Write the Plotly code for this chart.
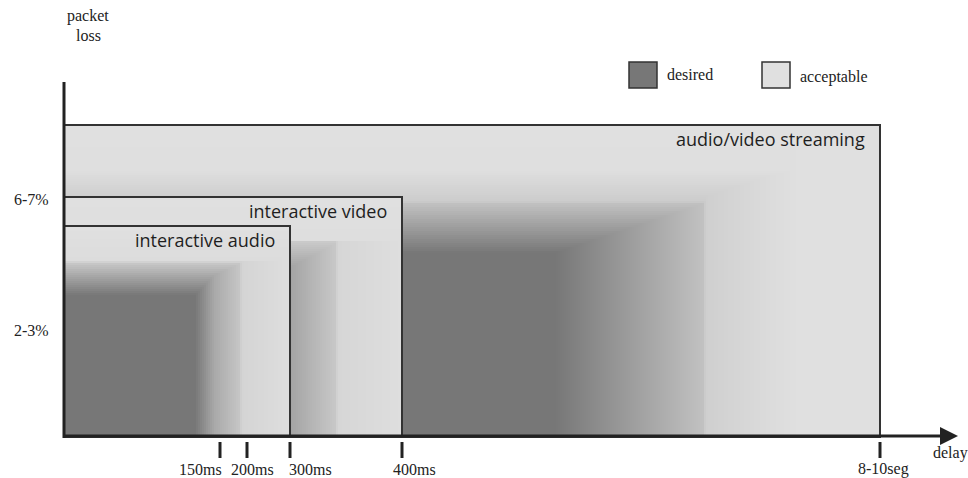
import numpy as np
import plotly.graph_objects as go

# ---------------- data ----------------
delay_labels = ["150ms", "200ms", "300ms", "400ms", "8-10seg"]
delay_pos = [156, 183, 226, 338, 816]          # position along the delay axis
loss_labels = ["6-7%", "2-3%"]
loss_pos = [238, 107]                          # position along the loss axis
apps = ["interactive audio", "interactive video", "audio/video streaming"]
app_max_delay = ["300ms", "400ms", "8-10seg"]  # right edge of each region
app_max_loss = [211, 240, 312]                 # top edge of each region
legend_labels = ["desired", "acceptable"]

# ---------------- style ----------------
DARK, LIGHT = 119, 224
INK = "#222222"
SERIF = "Liberation Serif, Times New Roman, serif"
SANS = "Open Sans, DejaVu Sans, sans-serif"

# gradient profiles (style): (positions, gray levels) along delay / loss
grad_x = {
    "interactive audio": ([0, 131, 151, 176, 177.5, 226],
                          [DARK, DARK, 170, 198, 212, 222]),
    "interactive video": ([0, 136, 228, 272, 273.5, 338],
                          [DARK, DARK, 165, 200, 214, 222]),
    "audio/video streaming": ([0, 491, 640, 641.5, 709, 736, 816],
                              [DARK, DARK, 194, 207, 220, 224, 224]),
}
grad_y = {
    "interactive audio": ([0, 142, 162, 174, 176, 211], [DARK, DARK, 170, 200, 220, 224]),
    "interactive video": ([0, 137, 170, 195, 196.5, 240], [DARK, DARK, 165, 202, 222, 224]),
    "audio/video streaming": ([0, 184, 234, 235.5, 267, 312],
                              [DARK, DARK, 194, 204, 223, 224]),
}
label_dx = [-20, 5, 20, 12, 3]

pos_of = dict(zip(delay_labels, delay_pos))
fig = go.Figure()

STEP = 2
gray_scale = [[0, f"rgb({DARK},{DARK},{DARK})"], [1, f"rgb({LIGHT},{LIGHT},{LIGHT})"]]

# draw from largest region to smallest so smaller ones sit on top
for app, md, ml in reversed(list(zip(apps, app_max_delay, app_max_loss))):
    w = pos_of[md]
    xe = np.append(np.arange(0, w, STEP), w).astype(float)
    ye = np.append(np.arange(0, ml, STEP), ml).astype(float)
    xc = (xe[:-1] + xe[1:]) / 2
    yc = (ye[:-1] + ye[1:]) / 2
    hx = np.interp(xc, *grad_x[app])
    hy = np.interp(yc, *grad_y[app])
    z = np.round(np.maximum(hx[None, :], hy[:, None])).astype(int)
    fig.add_trace(go.Heatmap(x=xe, y=ye, z=z, colorscale=gray_scale, zmin=DARK, zmax=LIGHT,
                             showscale=False, hoverinfo="skip", zsmooth=False))

shapes = []
annotations = []
# region outlines and labels
for app, md, ml in zip(apps, app_max_delay, app_max_loss):
    w = pos_of[md]
    shapes.append(dict(type="rect", xref="x", yref="y", x0=0, x1=w, y0=0, y1=ml,
                       line=dict(color="#333333", width=2), fillcolor="rgba(0,0,0,0)"))
    annotations.append(dict(x=w - 13, y=ml - 14, xref="x", yref="y", text=app, showarrow=False,
                            xanchor="right", yanchor="middle",
                            font=dict(family=SANS, size=18, color="#1e1e1e")))

# axes
shapes.append(dict(type="line", xref="x", yref="y", x0=0, x1=0, y0=-1, y1=355,
                   line=dict(color=INK, width=3)))
annotations.append(dict(x=894, y=1, ax=-1, ay=1, xref="x", yref="y", axref="x", ayref="y",
                        text="", showarrow=True, arrowhead=2, arrowsize=1.2, arrowwidth=3,
                        arrowcolor=INK))

# delay ticks and labels
for lab, p, dx in zip(delay_labels, delay_pos, label_dx):
    shapes.append(dict(type="line", xref="x", yref="y", x0=p, x1=p, y0=-5, y1=-21,
                       line=dict(color=INK, width=3)))
    annotations.append(dict(x=p + dx, y=-32, xref="x", yref="y", text=lab, showarrow=False,
                            font=dict(family=SERIF, size=16, color=INK)))
annotations.append(dict(x=886, y=-16, xref="x", yref="y", text="delay", showarrow=False,
                        font=dict(family=SERIF, size=16, color=INK)))

# loss labels
for lab, p in zip(loss_labels, loss_pos):
    annotations.append(dict(x=-33, y=p, xref="x", yref="y", text=lab, showarrow=False,
                            font=dict(family=SERIF, size=16, color=INK)))
annotations.append(dict(x=24, y=421, xref="x", yref="y", text="packet", showarrow=False,
                        font=dict(family=SERIF, size=16, color=INK)))
annotations.append(dict(x=24, y=402, xref="x", yref="y", text="loss", showarrow=False,
                        font=dict(family=SERIF, size=16, color=INK)))

# legend
leg_fill = [f"rgb({DARK},{DARK},{DARK})", f"rgb({LIGHT},{LIGHT},{LIGHT})"]
leg_x = [565, 698]
for lab, fc, lx in zip(legend_labels, leg_fill, leg_x):
    shapes.append(dict(type="rect", xref="x", yref="y", x0=lx, x1=lx + 28, y0=349, y1=375,
                       line=dict(color="#333333", width=1.5), fillcolor=fc))
    annotations.append(dict(x=lx + 36, y=363 if lab == "desired" else 360, xref="x", yref="y",
                            text=lab, showarrow=False, xanchor="left",
                            font=dict(family=SERIF, size=16, color=INK)))

fig.update_layout(
    width=968, height=478,
    margin=dict(l=0, r=0, t=0, b=0),
    paper_bgcolor="white", plot_bgcolor="white",
    xaxis=dict(range=[-64, 904], visible=False, fixedrange=True),
    yaxis=dict(range=[-41, 437], visible=False, fixedrange=True),
    shapes=shapes, annotations=annotations, showlegend=False,
)
fig.write_html("out.html", config={"displayModeBar": False},
               post_script="document.body.style.margin='0';document.body.style.overflow='hidden';")
